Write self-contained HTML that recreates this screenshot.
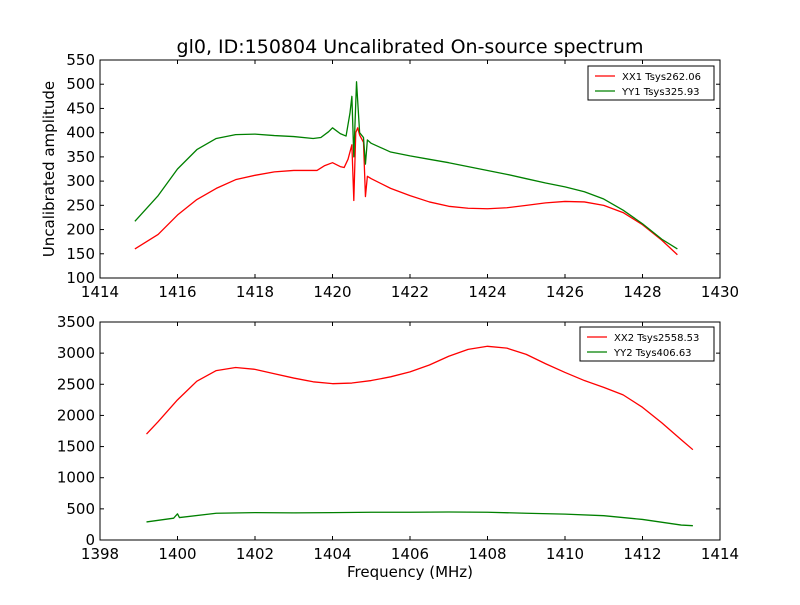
<!DOCTYPE html>
<html><head><meta charset="utf-8"><style>
body{margin:0;background:#fff;font-family:"Liberation Sans","DejaVu Sans",sans-serif}
svg text{font-family:"DejaVu Sans","Liberation Sans",sans-serif}
</style></head><body>
<svg id="c" width="800" height="600" xmlns="http://www.w3.org/2000/svg"></svg>
<script>
const xx1Freq=[1414.9,1415.5,1416,1416.5,1417,1417.5,1418,1418.5,1419,1419.6,1419.8,1420,1420.2,1420.3,1420.4,1420.5,1420.55,1420.6,1420.65,1420.7,1420.8,1420.85,1420.9,1421,1421.5,1422,1422.5,1423,1423.5,1424,1424.5,1425,1425.5,1426,1426.5,1427,1427.5,1428,1428.5,1428.9];
const xx1Vals=[160,190,230,262,285,303,312,319,322,322,332,338,330,328,345,375,260,400,410,395,380,268,310,305,285,270,257,248,244,243,245,250,255,258,257,250,235,210,178,148];
const yy1Freq=[1414.9,1415.5,1416,1416.5,1417,1417.5,1418,1418.5,1419,1419.5,1419.7,1419.9,1420,1420.2,1420.35,1420.45,1420.5,1420.55,1420.62,1420.7,1420.8,1420.85,1420.9,1421,1421.5,1422,1422.5,1423,1423.5,1424,1424.5,1425,1425.5,1426,1426.5,1427,1427.5,1428,1428.5,1428.9];
const yy1Vals=[217,270,325,365,388,396,397,394,392,388,390,402,410,398,393,440,475,350,505,400,390,335,385,378,360,352,345,338,330,322,314,305,296,288,278,263,240,212,180,160];
const xx2Freq=[1399.2,1399.5,1400,1400.5,1401,1401.5,1402,1402.5,1403,1403.5,1404,1404.5,1405,1405.5,1406,1406.5,1407,1407.5,1408,1408.5,1409,1409.5,1410,1410.5,1411,1411.5,1412,1412.5,1413,1413.3];
const xx2Vals=[1700,1900,2250,2550,2720,2770,2740,2670,2600,2540,2510,2520,2560,2620,2700,2810,2950,3060,3110,3080,2980,2830,2690,2560,2450,2330,2130,1880,1610,1450];
const yy2Freq=[1399.2,1399.9,1400,1400.05,1401,1402,1403,1404,1405,1406,1407,1408,1409,1410,1411,1412,1413,1413.3];
const yy2Vals=[290,350,420,360,430,440,435,440,445,445,450,445,430,415,390,330,240,230];
const topXTicks=[1414,1416,1418,1420,1422,1424,1426,1428,1430];
const topYTicks=[100,150,200,250,300,350,400,450,500,550];
const botXTicks=[1398,1400,1402,1404,1406,1408,1410,1412,1414];
const botYTicks=[0,500,1000,1500,2000,2500,3000,3500];

const svg=document.getElementById('c');const NS='http://www.w3.org/2000/svg';
function mk(t,a,p){const e=document.createElementNS(NS,t);for(const k in a)e.setAttribute(k,a[k]);(p||svg).appendChild(e);return e;}
function txt(x,y,s,anchor,size,name){const e=mk('text',{x:x,y:y,'text-anchor':anchor,'font-size':size});e.textContent=s;

return e;}
function panel(o){
 const sx=v=>o.x0+(v-o.xmin)/(o.xmax-o.xmin)*(o.x1-o.x0);
 const sy=v=>o.y1-(v-o.ymin)/(o.ymax-o.ymin)*(o.y1-o.y0);
 const g=mk('g',{});
 
 
 o.series.forEach(s=>{const p=mk('polyline',{points:s.f.map((f,i)=>sx(f)+','+sy(s.v[i])).join(' '),fill:'none',stroke:s.c,'stroke-width':1.3,'stroke-linejoin':'round'},g);
  
  });
 const fr=mk('rect',{x:o.x0,y:o.y0,width:o.x1-o.x0,height:o.y1-o.y0,fill:'none',stroke:'#000','stroke-width':1},g);
 
 
 o.xt.forEach(t=>{const x=sx(t);mk('line',{x1:x,x2:x,y1:o.y1,y2:o.y1-4,stroke:'#000'},g);mk('line',{x1:x,x2:x,y1:o.y0,y2:o.y0+4,stroke:'#000'},g);
  txt(x,o.y1+19,String(t),'middle',15,'x-tick-label');});
 o.yt.forEach(t=>{const y=sy(t);mk('line',{x1:o.x0,x2:o.x0+4,y1:y,y2:y,stroke:'#000'},g);mk('line',{x1:o.x1,x2:o.x1-4,y1:y,y2:y,stroke:'#000'},g);
  txt(o.x0-5,y+5,String(t),'end',15,'y-tick-label');});
 const L=o.leg;const lg=mk('g',{});
 
 
 mk('rect',{x:L.x,y:L.y,width:L.w,height:34,fill:'#fff',stroke:'#000'},lg);
 o.series.forEach((s,i)=>{const y=L.y+10+i*15;mk('line',{x1:L.x+7,x2:L.x+27,y1:y,y2:y,stroke:s.c,'stroke-width':1.2},lg);
  const t=txt(L.x+34,y+4,s.label,'start',10,'legend-entry');lg.appendChild(t);});
}
panel({name:'top-panel',x0:100,x1:720,y0:60,y1:278,xmin:1414,xmax:1430,ymin:100,ymax:550,xt:topXTicks,yt:topYTicks,
 series:[{id:'xx1-line',f:xx1Freq,v:xx1Vals,c:'#ff0000',label:'XX1 Tsys262.06'},{id:'yy1-line',f:yy1Freq,v:yy1Vals,c:'#008000',label:'YY1 Tsys325.93'}],
 leg:{x:588,y:66,w:126}});
panel({name:'bottom-panel',x0:100,x1:720,y0:322,y1:540,xmin:1398,xmax:1414,ymin:0,ymax:3500,xt:botXTicks,yt:botYTicks,
 series:[{id:'xx2-line',f:xx2Freq,v:xx2Vals,c:'#ff0000',label:'XX2 Tsys2558.53'},{id:'yy2-line',f:yy2Freq,v:yy2Vals,c:'#008000',label:'YY2 Tsys406.63'}],
 leg:{x:580,y:327,w:134}});
txt(410,53,'gl0, ID:150804 Uncalibrated On-source spectrum','middle',19,'chart-title');
txt(410,577,'Frequency (MHz)','middle',15,'x-axis-title');
const yl=txt(0,0,'Uncalibrated amplitude','middle',15,'y-axis-title');yl.setAttribute('transform','translate(54,169) rotate(-90)');
</script>
</body></html>
